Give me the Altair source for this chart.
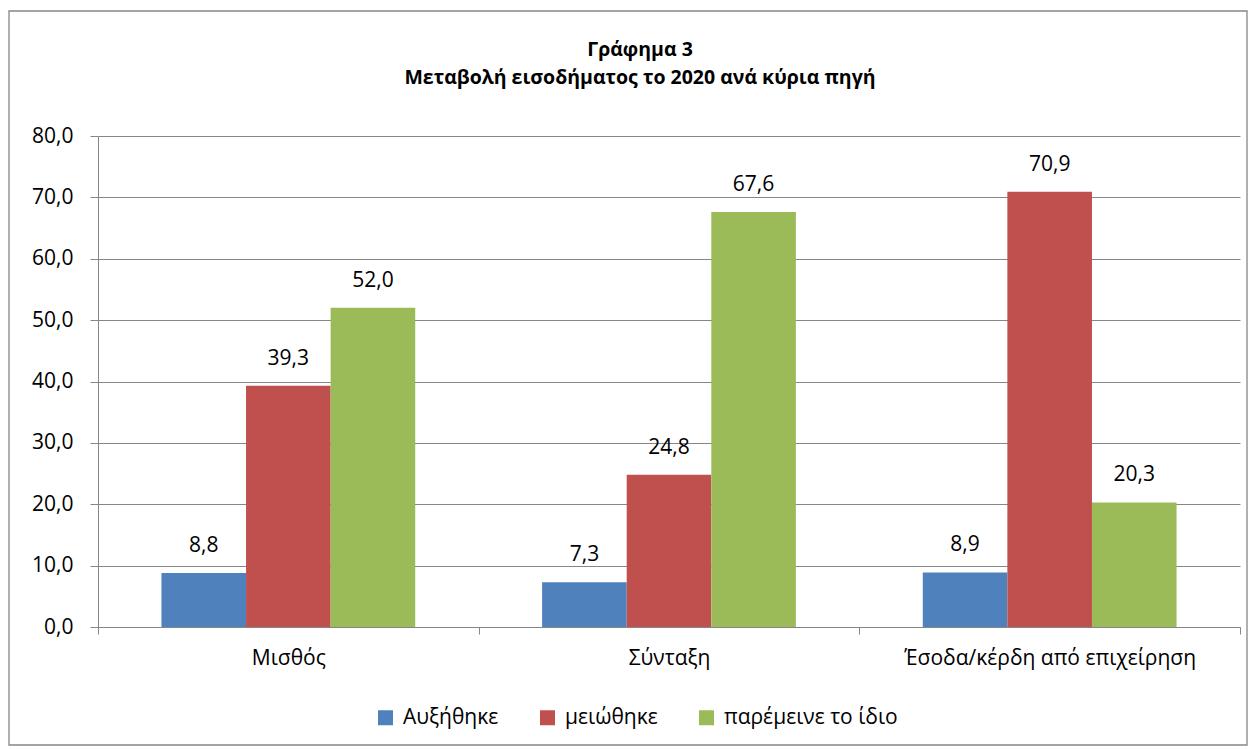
import altair as alt
import pandas as pd

categories = ["Μισθός", "Σύνταξη", "Έσοδα/κέρδη από επιχείρηση"]
series = ["Αυξήθηκε", "μειώθηκε", "παρέμεινε το ίδιο"]
increased = [8.8, 7.3, 8.9]
decreased = [39.3, 24.8, 70.9]
same = [52.0, 67.6, 20.3]
colors = ["#4F81BD", "#C0504D", "#9BBB59"]

rows = []
for i, c in enumerate(categories):
    for s, vals in zip(series, [increased, decreased, same]):
        rows.append({"cat": c, "series": s, "value": vals[i]})
df = pd.DataFrame(rows)

FONT = "Open Sans"
GRAY = "#868686"
FS = 21

x = alt.X("cat:N", sort=categories, title=None,
          scale=alt.Scale(paddingInner=0, paddingOuter=0),
          axis=alt.Axis(labelAngle=0, labelFontSize=FS, labelColor="black",
                        labelFont=FONT, tickBand="extent", tickSize=7,
                        tickColor=GRAY, domainColor=GRAY, labelPadding=13,
                        labelLimit=0))
xo = alt.XOffset("series:N", sort=series,
                 scale=alt.Scale(paddingInner=0, paddingOuter=0.75))
y = alt.Y("value:Q", title=None,
          scale=alt.Scale(domain=[0, 80]),
          axis=alt.Axis(values=list(range(0, 81, 10)), grid=True, gridColor=GRAY,
                        domainColor=GRAY, tickColor=GRAY, tickSize=8,
                        labelFontSize=FS, labelColor="black", labelFont=FONT,
                        labelPadding=17,
                        labelExpr="replace(format(datum.value, '.1f'), '.', ',')"))

base = alt.Chart(df)

bars = base.mark_bar().encode(
    x=x, xOffset=xo, y=y,
    color=alt.Color("series:N", sort=series,
                    scale=alt.Scale(domain=series, range=colors),
                    legend=alt.Legend(title=None, orient="none", direction="horizontal",
                                      legendX=277, legendY=571,
                                      symbolType="square", symbolSize=225,
                                      symbolStrokeWidth=0, labelFontSize=FS,
                                      labelFont=FONT, labelColor="black",
                                      columnPadding=38, labelOffset=7,
                                      labelLimit=0)),
)

labels = base.mark_text(dy=-27, fontSize=FS, font=FONT, color="black").transform_calculate(
    label="replace(format(datum.value, '.1f'), '.', ',')"
).encode(x=x, xOffset=xo, y=y, text="label:N")

border = alt.Chart(alt.Data(values=[{"a": 1}])).mark_rect(
    fill=None, stroke=GRAY, strokeWidth=1.3
).encode(x=alt.value(-89), x2=alt.value(1149), y=alt.value(-125), y2=alt.value(609))

chart = alt.layer(border, bars, labels).properties(
    width=1142, height=491,
    title=alt.Title(["Γράφημα 3", "Μεταβολή εισοδήματος το 2020 ανά κύρια πηγή"],
                    fontSize=19.5, font=FONT, fontWeight="bold", color="black",
                    lineHeight=28, anchor="middle", dx=-29, offset=-78),
    autosize=alt.AutoSizeParams(type="none"),
    padding={"left": 90, "top": 128, "right": 10, "bottom": 120},
).configure_view(stroke=None)

chart.save("out.html", embed_options={"renderer": "svg", "actions": False})
